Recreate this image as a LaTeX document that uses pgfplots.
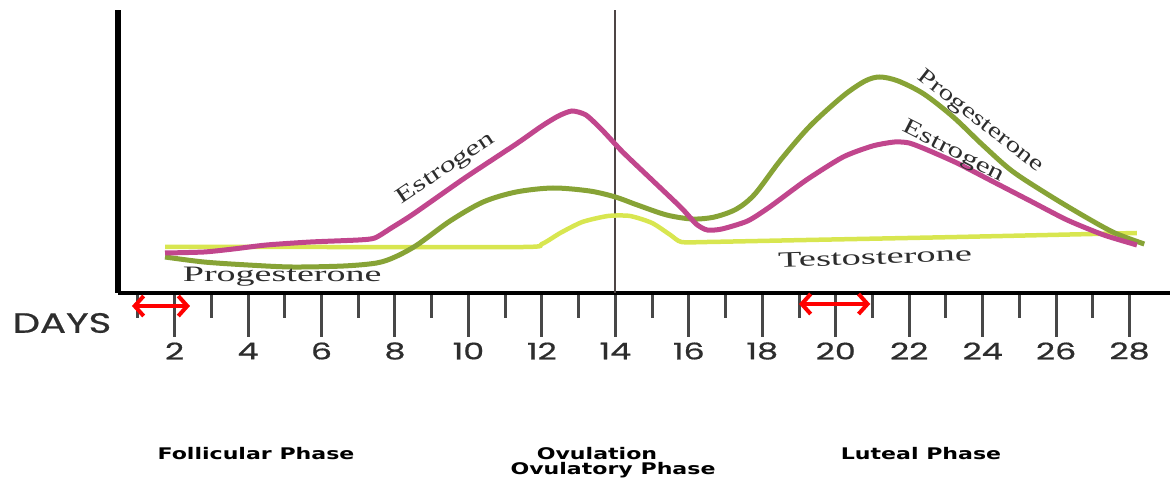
\documentclass[border=0pt]{standalone}
\usepackage{pgfplots}
\pgfplotsset{compat=1.18}
\usepackage{fontspec}
\usepackage{graphicx}
\usetikzlibrary{arrows.meta}
\newfontfamily\serifl{Liberation Serif}
\newfontfamily\geo[FakeBold=0.6]{Poppins}
\newfontfamily\phs{DejaVu Sans}
\definecolor{estr}{RGB}{193,70,141}
\definecolor{prog}{RGB}{135,163,54}
\definecolor{test}{RGB}{216,230,80}
\definecolor{ovl}{RGB}{77,69,69}
\definecolor{txt}{RGB}{45,45,45}
\newcommand\tl[1]{\scalebox{1.45}[1]{\geo\fontsize{23}{23}\selectfont #1}}
\newcommand\slab[2]{\scalebox{#1}[1]{\serifl\fontsize{22}{22}\selectfont #2}}
\newcommand\ph[1]{\scalebox{1.38}[1]{\phs\bfseries\fontsize{16}{16}\selectfont #1}}
\begin{document}
\begin{tikzpicture}[x=1pt,y=1pt]
\path[use as bounding box] (0,0) rectangle (1170,479);
\begin{axis}[at={(118pt,186pt)}, anchor=south west, scale only axis,
  width=1052pt, height=283pt,
  xmin=0.46, xmax=29.1, ymin=0, ymax=283,
  axis x line=bottom, axis y line=left,
  x axis line style={-, line width=4pt, black},
  y axis line style={-, line width=6pt, black},
  xtick={2,4,...,28},
  xticklabels={\tl{2},\tl{4},\tl{6},\tl{8},\tl{10},\tl{12},\tl{14},\tl{16},\tl{18},\tl{20},\tl{22},\tl{24},\tl{26},\tl{28}},
  minor xtick={1,3,...,27},
  tick align=outside,
  major tick length=44pt, minor tick length=25pt,
  tick style={line width=3pt, color=black!72},
  ytick=\empty,
  xticklabel style={anchor=center, yshift=-14pt, text=txt},
  clip=false]
\addplot[color=ovl, line width=2.2pt] coordinates {(14,0) (14,283)};
\addplot[color=test, line width=4.5pt, smooth, tension=0.4] coordinates {
(1.74,46) (6,46) (11.5,46) (12.0,49) (12.5,60) (13.1,71) (13.8,77) (14.4,77) (15.0,70) (15.5,58) (15.8,51) (16.5,51) (19.2,53) (23.3,56) (28.2,60)};
\addplot[color=prog, line width=5pt, smooth, tension=0.5] coordinates {
(1.74,36) (2.8,31) (4,28) (5.2,26) (6.6,27) (7.5,30) (8.0,36) (8.6,48) (9.5,72) (10.4,91) (11.3,101) (12.3,105) (13.3,102) (14.0,96) (14.6,88) (15.4,78) (16.1,74) (16.7,76) (17.3,84) (17.8,99) (18.5,133) (19.3,167) (20.2,197) (20.8,212) (21.2,216) (21.7,212) (22.4,199) (23.2,176) (24.0,148) (24.8,122) (25.8,98) (26.8,76) (27.6,60) (28.4,49)};
\addplot[color=estr, line width=5pt, smooth, tension=0.4] coordinates {
(1.74,40) (2.8,41) (3.6,44) (4.5,48) (5.7,51) (7.0,53) (7.45,55) (7.9,65) (8.5,79) (9.9,115) (11.3,149) (12.0,167) (12.45,177) (12.82,182) (13.2,178) (13.64,163) (14.2,141) (15.0,113) (15.8,85) (16.2,69) (16.5,63) (16.9,64) (17.6,72) (18.2,86) (19.2,113) (20.2,136) (21.0,147) (21.6,151) (22.0,150) (22.5,143) (23.3,130) (24.3,111) (25.3,92) (26.3,73) (27.3,58) (28.2,48)};
\addplot[red, line width=4pt, arrows={Straight Barb[length=9pt,width=20pt]-Straight Barb[length=9pt,width=20pt]}] coordinates {(0.84,-13) (2.42,-13)};
\addplot[red, line width=4pt, arrows={Straight Barb[length=9pt,width=20pt]-Straight Barb[length=9pt,width=20pt]}] coordinates {(19.0,-11) (20.94,-11)};
\node[rotate=34, text=txt] at (axis cs:9.39,124) {\slab{1.45}{Estrogen}};
\node[text=txt] at (axis cs:4.93,16) {\slab{1.73}{Progesterone}};
\node[rotate=2, text=txt] at (axis cs:21.07,36) {\slab{1.75}{Testosterone}};
\node[rotate=-38, text=txt] at (axis cs:23.93,171) {\slab{1.33}{Progesterone}};
\node[rotate=-27, text=txt] at (axis cs:23.2,141) {\slab{1.43}{Estrogen}};
\end{axis}
\node[text=txt] at (62,156) {\scalebox{1.38}[1]{\geo\fontsize{28}{28}\selectfont DAYS}};
\node at (256,25) {\ph{Follicular Phase}};
\node at (597,25) {\ph{Ovulation}};
\node at (613,9) {\ph{Ovulatory Phase}};
\node at (921,25) {\ph{Luteal Phase}};
\end{tikzpicture}
\end{document}
